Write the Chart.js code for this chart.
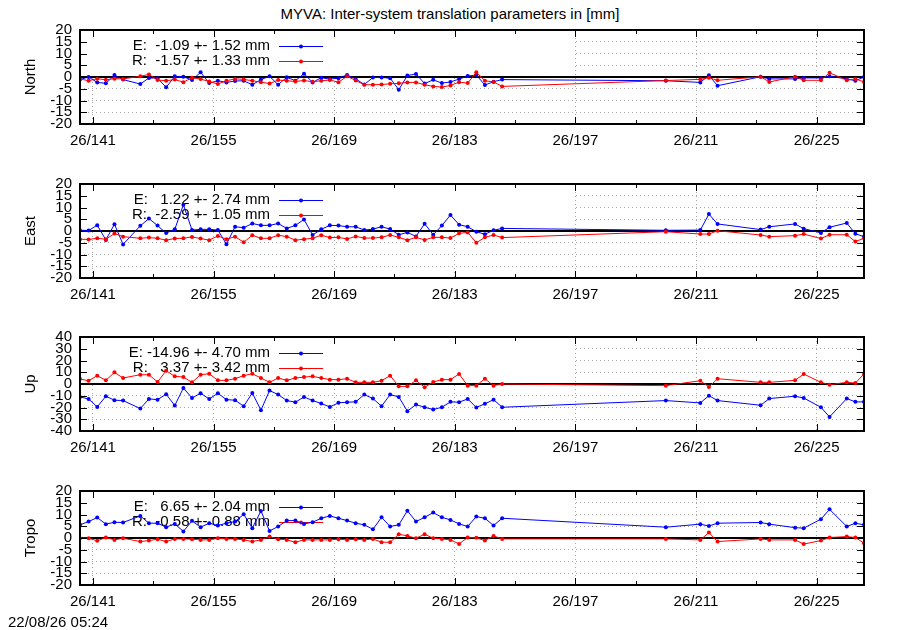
<!DOCTYPE html>
<html>
<head>
<meta charset="utf-8">
<script src="https://cdn.jsdelivr.net/npm/chart.js@4.4.1/dist/chart.umd.min.js"></script>
<style>
  html, body { margin: 0; padding: 0; background: #fff; }
  #wrap { position: relative; width: 900px; height: 630px; overflow: hidden; font-family: 'Liberation Sans', Arial, sans-serif; }
  canvas { position: absolute; left: 0; }
  .txt { position: absolute; font-size: 15px; line-height: 16px; color: #000; white-space: pre; }
</style>
</head>
<body>
<div id="wrap">
  <div class="txt" id="title" style="left:0; width:900px; text-align:center; top:6px;">MYVA: Inter-system translation parameters in [mm]</div>
  <canvas id="p0" width="900" height="154" style="top:0px"></canvas>
  <canvas id="p1" width="900" height="154" style="top:154px"></canvas>
  <canvas id="p2" width="900" height="154" style="top:307px"></canvas>
  <canvas id="p3" width="900" height="154" style="top:461px"></canvas>
  <div class="txt" id="stamp" style="left:8px; top:614px;">22/08/26 05:24</div>
</div>
<script>
// ---- data (day of year 2026) ----
const days = [
  139.5,140.5,141.5,142.5,143.5,144.5,
  146.5,147.5,148.5,149.5,150.5,151.5,152.5,153.5,154.5,155.5,
  156.5,157.5,158.5,159.5,160.5,161.5,162.5,163.5,164.5,165.5,
  166.5,167.5,168.5,169.5,170.5,171.5,172.5,173.5,174.5,175.5,
  176.5,177.5,178.5,179.5,180.5,181.5,182.5,183.5,184.5,185.5,
  186.5,187.5,188.5,
  207.5,211.5,212.5,213.5,218.5,219.5,222.5,223.5,225.5,226.5,228.5,229.5,230.5
];

const panelNames = ['North', 'East', 'Up', 'Tropo'];

const northE = [
  -1.1, 0.0, -2.3, -2.7, 0.8, -1.1,
  -3.0, -0.4, -0.5, -4.4, 0.3, 0.1, -1.3, 2.0, -2.6, -1.6,
  -2.3, -1.7, -1.6, -3.3, -1.1, 0.3, -3.3, -0.1, -1.6, 1.4,
  -2.3, -0.3, -0.9, -0.5, 0.9, -0.8, -3.2, -0.2, -0.2, -0.5,
  -5.4, 0.6, 1.3, -2.8, -1.2, -2.6, -2.1, -0.9, 0.4, 0.8,
  -3.4, -2.0, -1.1,
  -1.6, -2.3, 0.7, -3.7, 0.1, -0.8, -0.8, -0.4, -0.4, 0.3, -0.8, -1.6, 0.0
];
const northR = [
  -0.8, -1.6, -0.7, -1.2, -0.7, -0.8,
  0.3, 1.1, -1.3, -1.6, -1.1, -2.2, -0.3, -0.9, -1.9, -3.0,
  -1.6, -0.8, -1.0, -1.6, -2.2, -2.8, -1.3, -1.6, -1.9, -1.5,
  -2.0, -1.6, -1.3, -2.2, 0.3, -1.5, -3.3, -3.3, -3.2, -2.9,
  -2.7, -2.3, -2.3, -3.3, -4.0, -4.3, -3.6, -2.2, -2.6, 2.0,
  -1.6, -2.1, -4.0,
  -1.5, -1.0, -0.3, -1.4, 0.1, -2.1, 0.1, -1.4, -1.4, 1.8, -1.4, -0.8, -2.1
];
const eastE = [
  0.3, 0.2, 2.5, -3.8, 2.9, -5.7,
  2.2, 5.3, 2.3, -0.9, 0.7, 11.2, 0.4, 0.7, 0.7, 0.4,
  -5.6, 1.8, 1.4, 3.2, 2.4, 2.4, 3.2, 1.1, 2.4, 4.9,
  -1.7, 0.7, 2.4, 2.3, 1.8, 1.8, 0.4, 0.8, 1.8, 0.8,
  -1.6, -0.6, -2.3, 3.1, -1.6, 2.3, 6.8, 2.7, 1.8, -0.3,
  -1.4, 0.3, 1.1,
  0.3, 0.4, 7.2, 3.0, 0.6, 1.8, 3.0, 1.0, -0.8, 1.6, 3.4, -1.2, -2.4
];
const eastR = [
  -3.5, -3.6, -3.1, -3.5, -1.1, -2.4,
  -3.1, -2.8, -3.1, -3.9, -3.2, -3.1, -2.5, -3.2, -3.9, -2.1,
  -3.5, -2.4, -4.8, -1.8, -3.1, -3.1, -1.8, -2.4, -3.9, -3.5,
  -3.1, -1.8, -2.8, -2.7, -3.4, -2.3, -3.0, -3.0, -2.7, -1.7,
  -2.7, -3.9, -2.7, -3.8, -2.7, -2.7, -3.0, -1.0, -0.6, -5.0,
  -2.7, -1.7, -2.8,
  -0.3, -1.3, -1.3, 0.1, -1.7, -2.4, -2.0, -1.3, -3.2, -1.6, -1.6, -4.5, -3.1
];
const upE = [
  -11.0, -12.7, -19.5, -10.4, -13.8, -14.1,
  -20.9, -12.7, -13.3, -8.7, -18.3, -3.4, -11.9, -7.9, -12.7, -7.9,
  -13.3, -13.8, -18.9, -7.6, -22.3, -5.6, -9.0, -14.1, -15.5, -11.0,
  -14.1, -16.6, -19.5, -16.0, -15.5, -15.2, -9.0, -12.4, -18.9, -9.0,
  -11.0, -23.1, -17.5, -19.8, -21.7, -19.8, -15.2, -15.5, -12.7, -19.9,
  -16.9, -13.3, -19.8,
  -14.1, -16.1, -9.9, -14.1, -18.1, -12.4, -10.4, -11.9, -19.8, -28.0, -12.4, -15.2, -15.2
];
const upR = [
  4.2, 2.8, 7.1, 3.1, 9.9, 5.1,
  7.9, 7.9, 1.7, 11.3, 6.5, 5.9, 1.4, 7.9, 8.7, 3.1,
  3.1, 4.5, 7.1, 8.7, 5.1, 1.4, 5.1, 3.1, 5.1, 5.9,
  6.5, 5.1, 3.7, 3.7, 4.5, 1.4, 1.4, 1.4, 2.8, 7.1,
  -2.0, -2.0, 3.1, -2.8, 1.7, 3.7, 3.7, 8.5, -1.4, -1.4,
  4.5, -1.4, 0.0,
  -1.4, 2.8, -2.5, 4.5, 1.4, 1.4, 3.1, 8.5, 1.4, -0.6, 1.4, 0.8, 8.5
];
const tropoE = [
  5.6, 7.0, 8.7, 5.9, 6.7, 6.6,
  9.4, 6.3, 6.3, 4.6, 6.0, 2.8, 7.3, 4.6, 6.3, 5.3,
  6.3, 7.0, 10.1, 4.2, 11.5, 3.0, 4.9, 7.4, 7.4, 6.0,
  6.7, 8.4, 9.4, 8.4, 7.4, 6.3, 5.6, 3.7, 8.8, 4.9,
  5.6, 11.6, 7.0, 8.8, 10.8, 8.8, 7.7, 6.0, 4.9, 9.1,
  8.4, 5.3, 8.4,
  4.6, 5.9, 5.1, 6.3, 6.6, 5.9, 4.4, 4.2, 8.0, 12.2, 4.9, 6.3, 5.6
];
const tropoR = [
  -0.1, -0.1, -1.2, 0.2, -0.8, -0.1,
  -1.5, -1.1, -0.5, -1.5, -0.4, -0.4, -0.5, -0.8, -0.8, -0.1,
  -0.4, -0.4, -0.8, -1.5, -0.8, 0.6, -0.5, -0.8, -1.8, -0.8,
  -0.8, -0.8, -0.8, -0.5, -0.8, -0.5, -0.8, -0.4, -1.8, -1.8,
  1.6, 0.9, -0.1, 1.6, -0.1, -0.4, -0.8, -2.5, 0.2, 0.1,
  -1.1, 0.9, -0.4,
  -0.4, -0.8, 2.3, -1.5, -0.4, -0.8, -0.8, -2.6, -1.1, 0.2, 0.6, 0.2, -2.2
];

const seriesE = [northE, eastE, upE, tropoE];
const seriesR = [northR, eastR, upR, tropoR];
const meanE = [-1.09, 1.22, -14.96, 6.65];
const sdE   = [1.52, 2.74, 4.70, 2.04];
const meanR = [-1.57, -2.59, 3.37, -0.58];
const sdR   = [1.33, 1.05, 3.42, 0.88];
const yLimit = [20, 20, 40, 20];
const yStep  = [5, 5, 10, 5];

const xMajorTicks = [141, 155, 169, 183, 197, 211, 225];
const xMinorTicks = [148, 162, 176, 190, 204, 218];
const xMin = 139.5, xMax = 230.5;

// ---- styling ----
const FONT = "'Liberation Sans', Arial, Helvetica, sans-serif";
const FSIZE = 15;
const BLUE = '#0000ff', RED = '#ff0000', GRID = '#a8a8a8';
const KEY_RIGHT = 575;

function fmt(v, w) { let s = v.toFixed(2); while (s.length < w) s = ' ' + s; return s; }

const framePlugin = {
  id: 'gnuframe',
  beforeDatasetsDraw(chart) {
    const {ctx, chartArea: a, scales} = chart;
    const y0 = scales.y.getPixelForValue(0);
    const p = chart.options.plugins.gnuframe;
    ctx.save();
    // key area hides the grid
    ctx.fillStyle = '#fff';
    ctx.fillRect(a.left, a.top, KEY_RIGHT - a.left, y0 - a.top - 1);
    // zero axis
    ctx.strokeStyle = '#000';
    ctx.lineWidth = 2;
    ctx.beginPath(); ctx.moveTo(a.left, y0); ctx.lineTo(a.right, y0); ctx.stroke();
    // key
    ctx.font = FSIZE + 'px ' + FONT;
    ctx.textAlign = 'right';
    ctx.textBaseline = 'middle';
    const rows = [
      {t: 'E: ' + fmt(p.mE, 6) + ' +- ' + p.sE.toFixed(2) + ' mm', c: BLUE, dy: 16},
      {t: 'R: ' + fmt(p.mR, 6) + ' +- ' + p.sR.toFixed(2) + ' mm', c: RED, dy: 31}
    ];
    rows.forEach(r => {
      const yy = a.top + r.dy;
      ctx.fillStyle = '#000';
      ctx.fillText(r.t, 270, yy);
      ctx.strokeStyle = r.c; ctx.lineWidth = 1;
      ctx.beginPath(); ctx.moveTo(279, yy + 0.5); ctx.lineTo(323, yy + 0.5); ctx.stroke();
      ctx.fillStyle = r.c;
      ctx.beginPath(); ctx.arc(301, yy + 0.5, 2, 0, Math.PI * 2); ctx.fill();
    });
    ctx.restore();
  },
  afterDraw(chart) {
    const {ctx, chartArea: a, scales} = chart;
    ctx.save();
    ctx.strokeStyle = '#000';
    ctx.lineWidth = 1;
    ctx.beginPath();
    scales.y.ticks.forEach(t => {
      const y = Math.round(scales.y.getPixelForValue(t.value)) + 0.5;
      ctx.moveTo(a.left, y); ctx.lineTo(a.left + 7, y);
      ctx.moveTo(a.right, y); ctx.lineTo(a.right - 7, y);
    });
    xMajorTicks.forEach(v => {
      const x = Math.round(scales.x.getPixelForValue(v)) + 0.5;
      ctx.moveTo(x, a.bottom); ctx.lineTo(x, a.bottom - 7);
      ctx.moveTo(x, a.top); ctx.lineTo(x, a.top + 7);
    });
    xMinorTicks.forEach(v => {
      const x = Math.round(scales.x.getPixelForValue(v)) + 0.5;
      ctx.moveTo(x, a.bottom); ctx.lineTo(x, a.bottom - 4);
      ctx.moveTo(x, a.top); ctx.lineTo(x, a.top + 4);
    });
    ctx.stroke();
    ctx.lineWidth = 2;
    ctx.strokeRect(a.left, a.top, a.right - a.left, a.bottom - a.top);
    ctx.restore();
  }
};

function makePanel(i) {
  const toPts = arr => days.map((d, k) => ({x: d, y: arr[k]}));
  const lim = yLimit[i];
  new Chart(document.getElementById('p' + i), {
    type: 'line',
    data: {
      datasets: [
        {label: 'E', data: toPts(seriesE[i]), borderColor: BLUE, backgroundColor: BLUE, order: 1},
        {label: 'R', data: toPts(seriesR[i]), borderColor: RED, backgroundColor: RED, order: 0}
      ]
    },
    options: {
      responsive: false,
      animation: false,
      events: [],
      layout: {padding: {left: 0, right: 36, top: 30, bottom: 0}},
      elements: {
        point: {radius: 2, borderWidth: 0, hoverRadius: 2},
        line: {borderWidth: 1, tension: 0}
      },
      spanGaps: true,
      plugins: {
        legend: {display: false},
        tooltip: {enabled: false},
        gnuframe: {mE: meanE[i], sE: sdE[i], mR: meanR[i], sR: sdR[i]}
      },
      scales: {
        x: {
          type: 'linear', min: xMin, max: xMax,
          afterBuildTicks: s => { s.ticks = xMajorTicks.map(v => ({value: v})); },
          afterFit: s => { s.height = 30; },
          grid: {color: GRID, lineWidth: 1, drawTicks: false},
          border: {display: false, dash: [1, 3]},
          ticks: {
            autoSkip: false, maxRotation: 0, padding: 8, color: '#000',
            font: {family: FONT, size: FSIZE},
            callback: v => '26/' + v
          }
        },
        y: {
          min: -lim, max: lim,
          afterFit: s => { s.width = 80; },
          grid: {
            color: c => (c.tick && c.tick.value === 0) ? 'rgba(0,0,0,0)' : GRID,
            lineWidth: 1, drawTicks: false
          },
          border: {display: false, dash: [1, 3]},
          ticks: {autoSkip: false, stepSize: yStep[i], padding: 8, color: '#000', font: {family: FONT, size: FSIZE}},
          title: {
            display: true, text: panelNames[i], color: '#000',
            font: {family: FONT, size: FSIZE},
            padding: {top: 22, bottom: 0}
          }
        }
      }
    },
    plugins: [framePlugin]
  });
}

for (let i = 0; i < 4; i++) makePanel(i);
</script>
</body>
</html>
